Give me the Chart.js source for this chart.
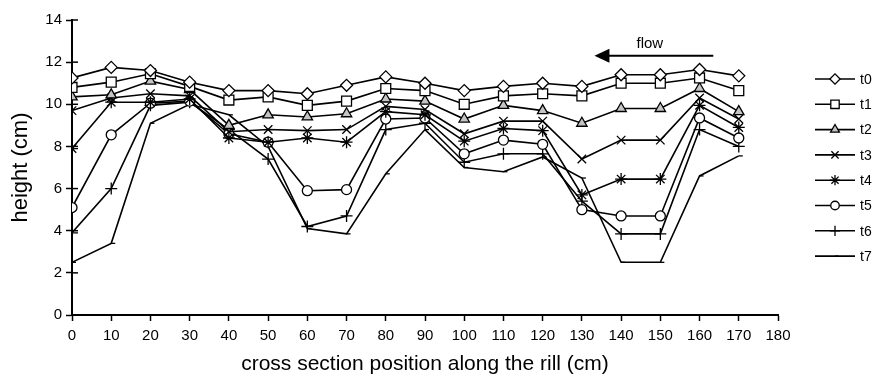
<!DOCTYPE html>
<html>
<head>
<meta charset="utf-8">
<script src="https://cdn.jsdelivr.net/npm/chart.js@4.4.1/dist/chart.umd.min.js"></script>
<style>
  html, body { margin: 0; padding: 0; background: #fff; }
  #wrap { width: 878px; height: 381px; }
</style>
</head>
<body>
<div id="wrap"><canvas id="chart"></canvas></div>
<script>
// cross section positions (cm)
const positions = [0, 10, 20, 30, 40, 50, 60, 70, 80, 90, 100, 110, 120, 130, 140, 150, 160, 170];

// heights (cm) per time step
const t0 = [11.25, 11.75, 11.6, 11.05, 10.65, 10.65, 10.5, 10.9, 11.3, 11.0, 10.65, 10.85, 11.0, 10.85, 11.4, 11.4, 11.65, 11.35];
const t1 = [10.8, 11.05, 11.45, 10.85, 10.2, 10.35, 9.95, 10.15, 10.75, 10.65, 10.0, 10.4, 10.5, 10.4, 11.0, 11.0, 11.25, 10.65];
const t2 = [10.35, 10.45, 11.1, 10.7, 9.0, 9.5, 9.4, 9.55, 10.25, 10.15, 9.3, 9.95, 9.7, 9.1, 9.8, 9.8, 10.75, 9.65];
const t3 = [9.7, 10.3, 10.5, 10.4, 8.7, 8.8, 8.75, 8.8, 9.9, 9.75, 8.6, 9.2, 9.2, 7.4, 8.3, 8.3, 10.3, 9.3];
const t4 = [7.9, 10.1, 10.1, 10.25, 8.4, 8.2, 8.4, 8.2, 9.65, 9.5, 8.25, 8.85, 8.75, 5.7, 6.45, 6.45, 9.95, 8.9];
const t5 = [5.1, 8.55, 10.05, 10.15, 8.6, 8.2, 5.9, 5.95, 9.3, 9.35, 7.65, 8.3, 8.1, 5.0, 4.7, 4.7, 9.35, 8.4];
const t6 = [3.9, 6.0, 9.95, 10.1, 8.8, 7.4, 4.2, 4.7, 8.8, 9.1, 7.25, 7.65, 7.65, 5.4, 3.85, 3.85, 8.8, 8.0];
const t7 = [2.5, 3.4, 9.1, 10.0, 9.5, 8.0, 4.1, 3.85, 6.7, 8.8, 7.0, 6.8, 7.5, 6.5, 2.5, 2.5, 6.6, 7.55];

const seriesNames = ["t0", "t1", "t2", "t3", "t4", "t5", "t6", "t7"];
const seriesValues = [t0, t1, t2, t3, t4, t5, t6, t7];

const xTicks = [0, 180, 10];   // min, max, step
const yTicks = [0, 14, 2];

// flow arrow in data units: tail x, tip x, y
const flowArrow = [163.5, 133.2, 12.3];

const markers = [
  { style: "rectRot", r: 6, fill: "#fff" },
  { style: "rect", r: 7, fill: "#fff" },
  { style: "triangle", r: 6, fill: "#c4c4c4" },
  { style: "crossRot", r: 6, fill: "#fff" },
  { style: "star", r: 6, fill: "#fff" },
  { style: "circle", r: 5, fill: "#fff" },
  { style: "cross", r: 6, fill: "#fff" },
  { style: "dash", r: 4, fill: "#fff" }
];

const FONT = "'Liberation Sans', Arial, Helvetica, sans-serif";

const datasets = seriesNames.map((name, i) => ({
  label: name,
  data: positions.map((x, j) => ({ x: x, y: seriesValues[i][j] })),
  borderColor: "#000",
  borderWidth: 1.6,
  pointStyle: markers[i].style,
  pointRadius: markers[i].r,
  pointHoverRadius: markers[i].r,
  pointBackgroundColor: markers[i].fill,
  pointBorderColor: "#000",
  pointBorderWidth: 1.3,
  tension: 0
}));

// extras: inner y ticks, side legend, flow arrow
const extras = {
  id: "extras",
  afterDraw(chart) {
    const ctx = chart.ctx;
    const xs = chart.scales.x, ys = chart.scales.y;
    ctx.save();
    ctx.strokeStyle = "#000";
    ctx.lineWidth = 1.5;
    ys.ticks.forEach(t => {
      const py = ys.getPixelForValue(t.value);
      ctx.beginPath();
      ctx.moveTo(xs.left, py);
      ctx.lineTo(xs.left + 6, py);
      ctx.stroke();
    });

    // legend
    const lx = chart.chartArea.right + 37;
    chart.data.datasets.forEach((ds, i) => {
      const ly = 79 + i * 25.3;
      ctx.strokeStyle = "#000";
      ctx.lineWidth = 1.6;
      ctx.beginPath();
      ctx.moveTo(lx, ly);
      ctx.lineTo(lx + 40, ly);
      ctx.stroke();
      if (Chart.helpers && Chart.helpers.drawPoint) {
        ctx.fillStyle = ds.pointBackgroundColor;
        ctx.strokeStyle = "#000";
        ctx.lineWidth = 1.3;
        Chart.helpers.drawPoint(ctx, { pointStyle: ds.pointStyle, radius: ds.pointRadius * 0.85, rotation: 0, borderWidth: 1.3 }, lx + 20, ly);
      }
      ctx.fillStyle = "#000";
      ctx.font = "14px " + FONT;
      ctx.textAlign = "left";
      ctx.textBaseline = "middle";
      ctx.fillText(ds.label, lx + 45, ly + 1);
    });

    // flow arrow
    const ax0 = xs.getPixelForValue(flowArrow[0]);
    const ax1 = xs.getPixelForValue(flowArrow[1]);
    const ay = ys.getPixelForValue(flowArrow[2]);
    ctx.strokeStyle = "#000";
    ctx.lineWidth = 2;
    ctx.beginPath();
    ctx.moveTo(ax0, ay);
    ctx.lineTo(ax1 + 10, ay);
    ctx.stroke();
    ctx.fillStyle = "#000";
    ctx.beginPath();
    ctx.moveTo(ax1, ay);
    ctx.lineTo(ax1 + 15, ay - 7);
    ctx.lineTo(ax1 + 15, ay + 7);
    ctx.closePath();
    ctx.fill();
    ctx.font = "15px " + FONT;
    ctx.textAlign = "center";
    ctx.textBaseline = "alphabetic";
    ctx.fillText("flow", (ax0 + ax1) / 2 - 4, ay - 8);
    ctx.restore();
  }
};

const chart = new Chart(document.getElementById("chart"), {
  type: "line",
  data: { datasets: datasets },
  options: {
    responsive: true,
    maintainAspectRatio: false,
    animation: false,
    events: [],
    layout: { padding: { top: 20, right: 100, left: 0, bottom: 0 } },
    plugins: {
      legend: { display: false },
      tooltip: { enabled: false }
    },
    scales: {
      x: {
        type: "linear",
        min: xTicks[0],
        max: xTicks[1],
        afterFit(scale) { scale.height = 66; },
        ticks: { stepSize: xTicks[2], color: "#000", font: { family: FONT, size: 15 }, padding: 6, maxRotation: 0, autoSkip: false },
        grid: { display: true, drawOnChartArea: false, drawTicks: true, tickLength: 6, tickColor: "#000", tickWidth: 1.5 },
        border: { display: true, color: "#000", width: 2 },
        title: { display: true, text: "cross section position along the rill (cm)", color: "#000", font: { family: FONT, size: 21 }, padding: { top: 2 } }
      },
      y: {
        min: yTicks[0],
        max: yTicks[1],
        afterFit(scale) { scale.width = 72; },
        ticks: { stepSize: yTicks[2], color: "#000", font: { family: FONT, size: 15 }, padding: 4 },
        grid: { display: true, drawOnChartArea: false, drawTicks: true, tickLength: 6, tickColor: "#000", tickWidth: 1.5 },
        border: { display: true, color: "#000", width: 2 },
        title: { display: true, text: "height (cm)", color: "#000", font: { family: FONT, size: 22 }, padding: { top: 8, bottom: 0 } }
      }
    }
  },
  plugins: [extras]
});
</script>
</body>
</html>
